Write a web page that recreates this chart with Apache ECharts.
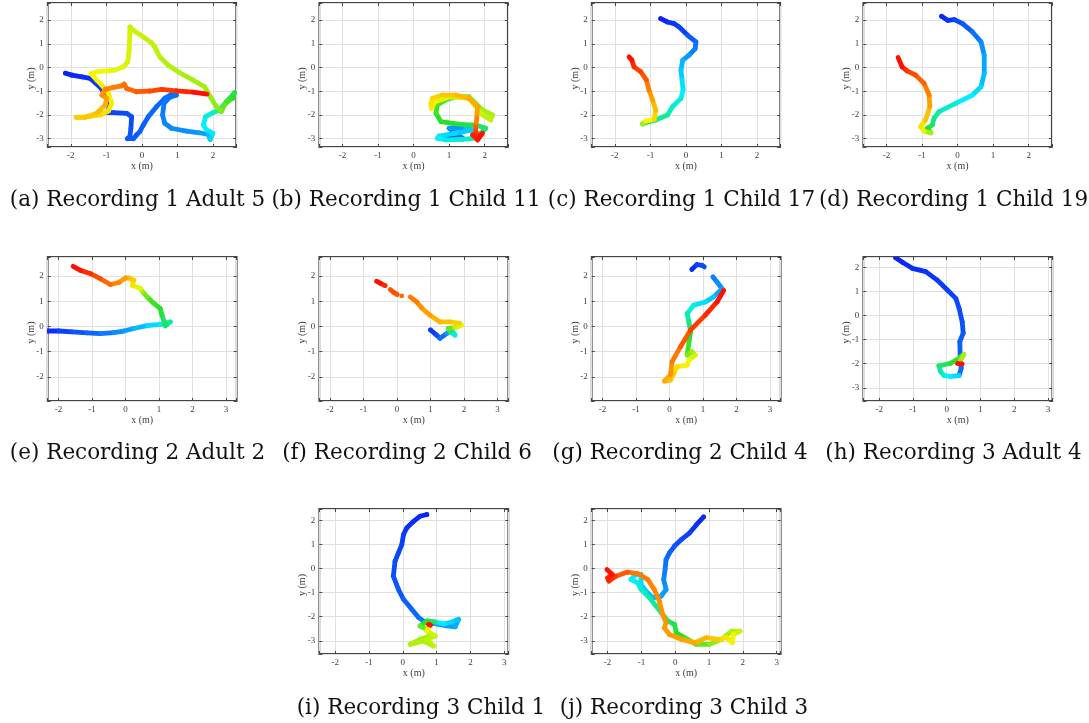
<!DOCTYPE html>
<html>
<head>
<meta charset="utf-8">
<script src="https://cdn.jsdelivr.net/npm/echarts@6/dist/echarts.min.js"></script>
<style>
  html, body { margin: 0; padding: 0; background: #ffffff; }
  #chart { width: 1089px; height: 723px; }
</style>
</head>
<body>
<div id="chart"></div>
<script>
// Walking trajectories, one per participant: [x (m), y (m), fraction of recording time]
const trajA = [
  [-2.15,-0.24,0.00],[-1.97,-0.32,0.01],[-1.69,-0.39,0.02],[-1.45,-0.46,0.03],[-1.17,-0.84,0.04],
  [-0.99,-1.23,0.05],[-0.91,-1.65,0.06],[-0.97,-1.90,0.06],[-0.80,-1.90,0.07],[-0.43,-1.93,0.07],
  [-0.29,-2.07,0.08],[-0.31,-2.56,0.08],[-0.34,-2.91,0.09],[-0.41,-3.00,0.09],[-0.24,-3.00,0.10],
  [-0.15,-2.84,0.10],[-0.06,-2.70,0.10],[0.04,-2.42,0.11],[0.18,-2.07,0.11],[0.41,-1.65,0.12],
  [0.64,-1.30,0.12],[0.83,-1.13,0.13],[0.97,-1.16,0.13],[0.78,-1.26,0.14],[0.62,-1.51,0.14],
  [0.58,-2.00,0.15],[0.64,-2.35,0.16],[0.83,-2.56,0.17],[1.25,-2.68,0.18],[1.62,-2.75,0.19],
  [1.86,-2.82,0.21],[1.92,-3.03,0.25],[1.99,-2.77,0.29],[1.81,-2.63,0.32],[1.73,-2.42,0.33],
  [1.79,-2.07,0.34],[2.00,-1.90,0.36],[2.18,-1.79,0.39],[2.37,-1.44,0.43],[2.55,-1.16,0.46],
  [2.60,-1.06,0.47],[2.55,-1.30,0.48],[2.46,-1.37,0.50],[2.32,-1.58,0.52],[2.23,-1.86,0.55],
  [2.09,-1.65,0.57],[1.95,-1.30,0.58],[1.76,-0.81,0.59],[1.44,-0.53,0.60],[1.06,-0.22,0.60],
  [0.74,0.10,0.61],[0.50,0.45,0.61],[0.36,0.87,0.62],[0.27,1.04,0.62],[0.04,1.29,0.62],
  [-0.24,1.57,0.63],[-0.34,1.71,0.63],[-0.34,1.43,0.63],[-0.36,0.73,0.64],[-0.40,0.24,0.64],
  [-0.52,0.03,0.64],[-0.76,-0.11,0.65],[-0.99,-0.14,0.65],[-1.22,-0.17,0.66],[-1.44,-0.25,0.66],
  [-1.27,-0.53,0.67],[-1.13,-0.74,0.67],[-0.94,-1.09,0.68],[-0.85,-1.51,0.68],[-0.94,-1.83,0.69],
  [-1.17,-2.00,0.70],[-1.50,-2.07,0.71],[-1.85,-2.10,0.72],[-1.59,-2.10,0.73],[-1.27,-1.93,0.74],
  [-1.03,-1.58,0.76],[-0.99,-1.30,0.78],[-1.13,-1.16,0.80],[-1.03,-0.92,0.82],[-0.80,-0.84,0.84],
  [-0.57,-0.77,0.85],[-0.50,-0.70,0.86],[-0.43,-0.88,0.87],[-0.15,-1.02,0.88],[0.22,-0.99,0.90],
  [0.55,-0.92,0.92],[0.97,-0.98,0.94],[1.44,-1.04,0.97],[1.83,-1.12,1.00]
];
const trajB = [
  [1.05,-3.03,0.00],[0.86,-2.98,0.03],[1.10,-2.91,0.06],[1.38,-2.98,0.10],[1.00,-2.56,0.15],
  [1.47,-2.56,0.20],[1.66,-2.63,0.25],[1.19,-2.77,0.28],[0.72,-2.89,0.30],[0.67,-2.98,0.32],
  [0.91,-3.05,0.34],[1.38,-3.03,0.36],[1.75,-2.98,0.38],[2.03,-2.56,0.42],[1.75,-2.42,0.45],
  [1.47,-2.42,0.47],[1.10,-2.35,0.48],[0.77,-2.28,0.50],[0.63,-1.93,0.50],[0.67,-1.58,0.52],
  [0.91,-1.37,0.53],[1.19,-1.23,0.55],[1.56,-1.23,0.56],[1.75,-1.51,0.57],[1.94,-1.79,0.58],
  [2.22,-2.00,0.60],[2.17,-2.21,0.61],[1.94,-2.00,0.62],[1.56,-1.30,0.63],[1.00,-1.23,0.64],
  [0.60,-1.45,0.65],[0.50,-1.72,0.67],[0.49,-1.50,0.69],[0.53,-1.30,0.70],[0.81,-1.16,0.72],
  [1.19,-1.16,0.74],[1.56,-1.30,0.76],[1.80,-1.65,0.78],[1.78,-2.10,0.80],[1.75,-2.49,0.84],
  [1.75,-2.70,0.90],[1.85,-2.91,0.94],[1.66,-2.84,0.96],[1.80,-3.05,0.98],[1.94,-2.77,1.00]
];
const trajC = [
  [-0.71,2.06,0.00],[-0.52,1.92,0.01],[-0.33,1.85,0.03],[-0.19,1.71,0.04],[0.05,1.36,0.06],
  [0.28,1.08,0.10],[0.26,0.80,0.13],[0.09,0.52,0.16],[-0.09,0.31,0.20],[-0.14,-0.11,0.24],
  [-0.11,-0.53,0.28],[-0.08,-0.95,0.31],[-0.14,-1.30,0.33],[-0.38,-1.65,0.36],[-0.52,-2.00,0.38],
  [-0.85,-2.21,0.41],[-1.13,-2.32,0.44],[-1.22,-2.38,0.50],[-1.13,-2.26,0.60],[-0.89,-2.18,0.67],
  [-0.85,-1.79,0.72],[-0.94,-1.37,0.76],[-1.04,-0.95,0.80],[-1.11,-0.53,0.85],[-1.27,-0.18,0.90],
  [-1.46,0.03,0.93],[-1.52,0.31,0.97],[-1.60,0.45,1.00]
];
const trajD = [
  [-0.45,2.16,0.00],[-0.28,1.99,0.02],[-0.09,2.02,0.04],[0.14,1.85,0.07],[0.42,1.50,0.10],
  [0.66,1.08,0.14],[0.75,0.52,0.18],[0.75,-0.25,0.22],[0.66,-0.81,0.26],[0.42,-1.16,0.30],
  [-0.05,-1.51,0.33],[-0.52,-1.86,0.37],[-0.66,-2.14,0.40],[-0.71,-2.42,0.43],[-0.85,-2.56,0.46],
  [-0.75,-2.75,0.50],[-0.94,-2.68,0.60],[-1.04,-2.49,0.65],[-0.90,-2.21,0.70],[-0.78,-1.65,0.75],
  [-0.80,-1.16,0.80],[-0.94,-0.67,0.85],[-1.18,-0.32,0.89],[-1.42,-0.14,0.92],[-1.56,0.03,0.96],
  [-1.67,0.42,1.00]
];
const trajE = [
  [-2.31,-0.18,0.00],[-1.99,-0.18,0.03],[-1.59,-0.21,0.06],[-1.14,-0.25,0.09],[-0.75,-0.28,0.12],
  [-0.35,-0.24,0.15],[-0.05,-0.18,0.18],[0.25,-0.08,0.21],[0.65,0.03,0.25],[1.04,0.08,0.30],
  [1.34,0.18,0.36],[1.19,0.03,0.42],[1.09,0.45,0.46],[1.04,0.71,0.48],[0.85,0.91,0.50],
  [0.65,1.17,0.52],[0.50,1.39,0.56],[0.45,1.50,0.60],[0.20,1.63,0.65],[0.25,1.83,0.70],
  [0.10,1.92,0.73],[0.00,1.92,0.76],[-0.20,1.74,0.80],[-0.45,1.66,0.84],[-0.75,1.89,0.88],
  [-1.04,2.09,0.92],[-1.34,2.22,0.96],[-1.56,2.38,1.00]
];
// tracking drops out near the end of this walk, leaving separate runs of samples
const trajF1 = [
  [1.00,-0.14,0.00],[1.18,-0.34,0.05],[1.28,-0.47,0.08],[1.48,-0.28,0.13],[1.63,-0.14,0.20],
  [1.73,-0.34,0.28],[1.58,-0.21,0.36],[1.53,-0.08,0.45],[1.73,-0.05,0.55],[1.92,0.05,0.63],
  [1.87,0.12,0.68],[1.58,0.18,0.73],[1.28,0.18,0.75],[0.98,0.45,0.77],[0.73,0.74,0.80],
  [0.59,0.97,0.82],[0.39,1.17,0.85]
];
const trajF2 = [[0.14,1.21,0.87]];
const trajF3 = [[0.00,1.27,0.89],[-0.10,1.35,0.90],[-0.20,1.46,0.91]];
const trajF4 = [[-0.36,1.62,0.94],[-0.49,1.71,0.97],[-0.61,1.79,1.00]];
const trajG1 = [
  [0.67,2.26,0.00],[0.82,2.45,0.03],[0.97,2.42,0.06],[1.04,2.36,0.08]
];
const trajG2 = [
  [1.30,1.96,0.14],[1.42,1.76,0.16],[1.57,1.50,0.18],[1.32,1.17,0.22],[1.07,0.97,0.27],
  [0.72,0.84,0.31],[0.53,0.51,0.35],[0.58,0.18,0.40],[0.63,-0.21,0.44],[0.58,-0.67,0.48],
  [0.53,-1.13,0.52],[0.67,-1.00,0.57],[0.77,-1.13,0.60],[0.58,-1.33,0.64],[0.53,-1.53,0.66],
  [0.23,-1.59,0.68],[0.13,-1.86,0.70],[0.03,-2.12,0.73],[-0.15,-2.16,0.75],[0.03,-1.92,0.78],
  [0.08,-1.39,0.82],[0.33,-0.80,0.86],[0.63,-0.14,0.90],[1.07,0.45,0.94],[1.42,0.97,0.97],
  [1.62,1.43,1.00]
];
const trajH = [
  [-1.51,2.41,0.00],[-1.31,2.22,0.01],[-1.02,1.97,0.02],[-0.62,1.83,0.03],[-0.28,1.48,0.04],
  [0.02,1.07,0.05],[0.27,0.72,0.06],[0.37,0.30,0.07],[0.46,-0.25,0.08],[0.49,-0.73,0.09],
  [0.39,-1.08,0.10],[0.40,-1.63,0.11],[0.43,-2.19,0.12],[0.37,-2.49,0.13],[0.12,-2.53,0.30],
  [-0.08,-2.49,0.33],[-0.18,-2.33,0.36],[-0.23,-2.09,0.40],[0.12,-1.98,0.45],[0.37,-1.77,0.50],
  [0.51,-1.61,0.53],[0.37,-1.98,0.60],[0.32,-1.99,0.68],[0.46,-2.01,1.00]
];
const trajI = [
  [0.71,2.24,0.00],[0.51,2.17,0.01],[0.32,1.96,0.02],[0.12,1.69,0.03],[0.02,1.41,0.04],
  [-0.03,0.99,0.05],[-0.13,0.65,0.06],[-0.23,0.30,0.07],[-0.28,-0.32,0.08],[-0.13,-0.87,0.09],
  [0.02,-1.28,0.10],[0.27,-1.70,0.11],[0.47,-2.04,0.12],[0.66,-2.22,0.14],[1.00,-2.30,0.17],
  [1.30,-2.38,0.19],[1.55,-2.42,0.21],[1.65,-2.11,0.23],[1.46,-2.22,0.26],[1.21,-2.30,0.30],
  [0.96,-2.22,0.33],[0.71,-2.18,0.45],[0.51,-2.39,0.50],[0.71,-2.53,0.55],[0.81,-2.80,0.58],
  [0.51,-2.94,0.60],[0.22,-3.15,0.60],[0.61,-3.01,0.61],[0.91,-3.22,0.61],[0.71,-2.94,0.62],
  [0.96,-2.80,0.62],[0.71,-2.60,0.63],[0.81,-2.36,0.66],[0.76,-2.32,0.85],[0.82,-2.35,1.00]
];
const trajJ = [
  [0.84,2.14,0.00],[0.63,1.82,0.02],[0.43,1.48,0.04],[0.18,1.20,0.06],[-0.02,0.93,0.08],
  [-0.17,0.65,0.10],[-0.27,0.37,0.12],[-0.30,-0.04,0.14],[-0.34,-0.46,0.16],[-0.27,-0.87,0.18],
  [-0.42,-1.15,0.20],[-0.66,-1.22,0.22],[-0.86,-0.94,0.25],[-1.01,-0.66,0.28],[-1.01,-0.25,0.30],
  [-1.16,-0.25,0.31],[-1.31,-0.46,0.32],[-1.11,-0.59,0.34],[-1.01,-0.87,0.36],[-0.76,-1.22,0.38],
  [-0.57,-1.56,0.40],[-0.37,-1.91,0.42],[-0.22,-2.18,0.44],[-0.02,-2.32,0.46],[0.03,-2.67,0.48],
  [0.28,-2.87,0.50],[0.62,-3.15,0.52],[1.02,-3.15,0.55],[1.37,-2.94,0.58],[1.67,-2.60,0.60],
  [1.92,-2.60,0.61],[1.72,-2.74,0.63],[1.69,-3.08,0.66],[1.52,-2.87,0.68],[1.27,-2.94,0.70],
  [0.92,-2.87,0.74],[0.58,-3.08,0.77],[0.18,-2.94,0.79],[-0.17,-2.74,0.80],[-0.32,-2.46,0.81],
  [-0.27,-2.25,0.81],[-0.37,-1.91,0.82],[-0.47,-1.35,0.82],[-0.62,-0.87,0.83],[-0.81,-0.46,0.84],
  [-1.11,-0.21,0.85],[-1.41,-0.15,0.86],[-1.76,-0.32,0.90],[-1.96,-0.52,0.94],[-2.00,-0.39,0.97],
  [-1.86,-0.25,0.98],[-2.02,-0.04,1.00]
];

const captions = [
  '(a) Recording 1 Adult 5', '(b) Recording 1 Child 11', '(c) Recording 1 Child 17', '(d) Recording 1 Child 19',
  '(e) Recording 2 Adult 2', '(f) Recording 2 Child 6', '(g) Recording 2 Child 4', '(h) Recording 3 Adult 4',
  '(i) Recording 3 Child 1', '(j) Recording 3 Child 3'
];
const tracks = [
  [trajA], [trajB], [trajC], [trajD],
  [trajE], [trajF1, trajF2, trajF3, trajF4], [trajG1, trajG2], [trajH],
  [trajI], [trajJ]
];
const xRanges = [
  [-2.65, 2.65], [-2.65, 2.65], [-2.65, 2.65], [-2.65, 2.65],
  [-2.32, 3.32], [-2.32, 3.32], [-2.32, 3.32], [-2.47, 3.13],
  [-2.47, 3.12], [-2.47, 3.12]
];
const yRanges = [
  [-3.35, 2.72], [-3.35, 2.72], [-3.35, 2.72], [-3.35, 2.72],
  [-2.95, 2.75], [-2.95, 2.75], [-2.95, 2.75], [-3.55, 2.44],
  [-3.55, 2.47], [-3.55, 2.47]
];

// panel boxes in pixels: left, top, width, height; caption centre
const boxes = [
  [47.7, 3, 188.5, 144], [319.3, 3, 188.5, 144], [591.7, 3, 188.5, 144], [863.3, 3, 188.5, 144],
  [47.7, 257, 189, 144], [319.3, 257, 189, 144], [591.7, 257, 189, 144], [863.3, 257, 189, 144],
  [319.3, 509, 189, 145], [591.7, 509, 189, 145]
];
const captionPos = [
  [137.5, 200], [406, 200], [681.5, 200], [953.5, 200],
  [137.5, 453], [407, 453], [680, 453], [953.5, 453],
  [421, 708], [684, 708]
];

const tickFont = 'Liberation Serif';
const axisGray = '#454545';
const labelGray = '#3c3c3c';

function isWhole(v) { return Math.abs(v - Math.round(v)) < 1e-6; }

function renderTrack(params, api) {
  const i = params.dataIndexInside;
  const p = api.coord([api.value(0), api.value(1)]);
  const color = api.visual('color');
  if (i === 0) {
    return { type: 'circle', shape: { cx: p[0], cy: p[1], r: 2.4 }, style: { fill: color } };
  }
  const q = api.coord([api.value(0, i - 1), api.value(1, i - 1)]);
  return {
    type: 'line',
    shape: { x1: q[0], y1: q[1], x2: p[0], y2: p[1] },
    style: { stroke: color, lineWidth: 4.8, lineCap: 'round' }
  };
}

const grid = [], xAxis = [], yAxis = [], series = [], graphic = [];

boxes.forEach((b, k) => {
  grid.push({
    left: b[0], top: b[1], width: b[2], height: b[3],
    show: true, borderColor: axisGray, borderWidth: 1.8, backgroundColor: '#ffffff'
  });
  const common = {
    gridIndex: k, type: 'value', minInterval: 1, maxInterval: 1,
    axisLine: { show: false, onZero: false },
    axisTick: { inside: true, length: 3, lineStyle: { color: axisGray, width: 1 } }
  };
  xAxis.push(Object.assign({}, common, {
    min: xRanges[k][0], max: xRanges[k][1], position: 'bottom',
    axisLabel: {
      formatter: v => isWhole(v) ? String(Math.round(v)) : '',
      fontFamily: tickFont, fontSize: 9, color: labelGray, margin: 4
    },
    splitLine: { show: true, lineStyle: { color: '#e0e0e0', width: 1 } },
    name: 'x (m)', nameLocation: 'middle', nameGap: 14, nameMoveOverlap: false,
    nameTextStyle: { fontFamily: tickFont, fontSize: 10, color: labelGray }
  }));
  xAxis.push(Object.assign({}, common, {
    min: xRanges[k][0], max: xRanges[k][1], position: 'top',
    axisLabel: { show: false }, splitLine: { show: false }
  }));
  yAxis.push(Object.assign({}, common, {
    min: yRanges[k][0], max: yRanges[k][1], position: 'left',
    axisLabel: {
      formatter: v => isWhole(v) ? String(Math.round(v)) : '',
      fontFamily: tickFont, fontSize: 9, color: labelGray, margin: 4
    },
    splitLine: { show: true, lineStyle: { color: '#e0e0e0', width: 1 } },
    name: 'y (m)', nameLocation: 'middle', nameGap: 11.5, nameMoveOverlap: false,
    nameTextStyle: { fontFamily: tickFont, fontSize: 10, color: labelGray, padding: [0, 7, 0, 0] }
  }));
  yAxis.push(Object.assign({}, common, {
    min: yRanges[k][0], max: yRanges[k][1], position: 'right',
    axisLabel: { show: false }, splitLine: { show: false }
  }));
  tracks[k].forEach(piece => {
    series.push({
      type: 'custom', xAxisIndex: 2 * k, yAxisIndex: 2 * k,
      data: piece, encode: { x: 0, y: 1 },
      renderItem: renderTrack, clip: true, silent: true, animation: false
    });
  });
  graphic.push({
    type: 'text', x: captionPos[k][0], y: captionPos[k][1], silent: true,
    style: {
      text: captions[k], fill: '#111111', font: '21.5px "DejaVu Serif"',
      align: 'center', verticalAlign: 'middle', textAlign: 'center', textVerticalAlign: 'middle'
    }
  });
});

const chart = echarts.init(document.getElementById('chart'), null, { renderer: 'canvas' });
chart.setOption({
  backgroundColor: '#ffffff',
  animation: false,
  grid, xAxis, yAxis, series, graphic,
  visualMap: {
    type: 'continuous', show: false, dimension: 2, min: 0, max: 1,
    seriesIndex: series.map((s, i) => i),
    inRange: { color: ['#0a1cf5', '#0a84ff', '#00f0ff', '#28e028', '#f8f800', '#ff8a00', '#ff1000'] }
  }
});
</script>
</body>
</html>
